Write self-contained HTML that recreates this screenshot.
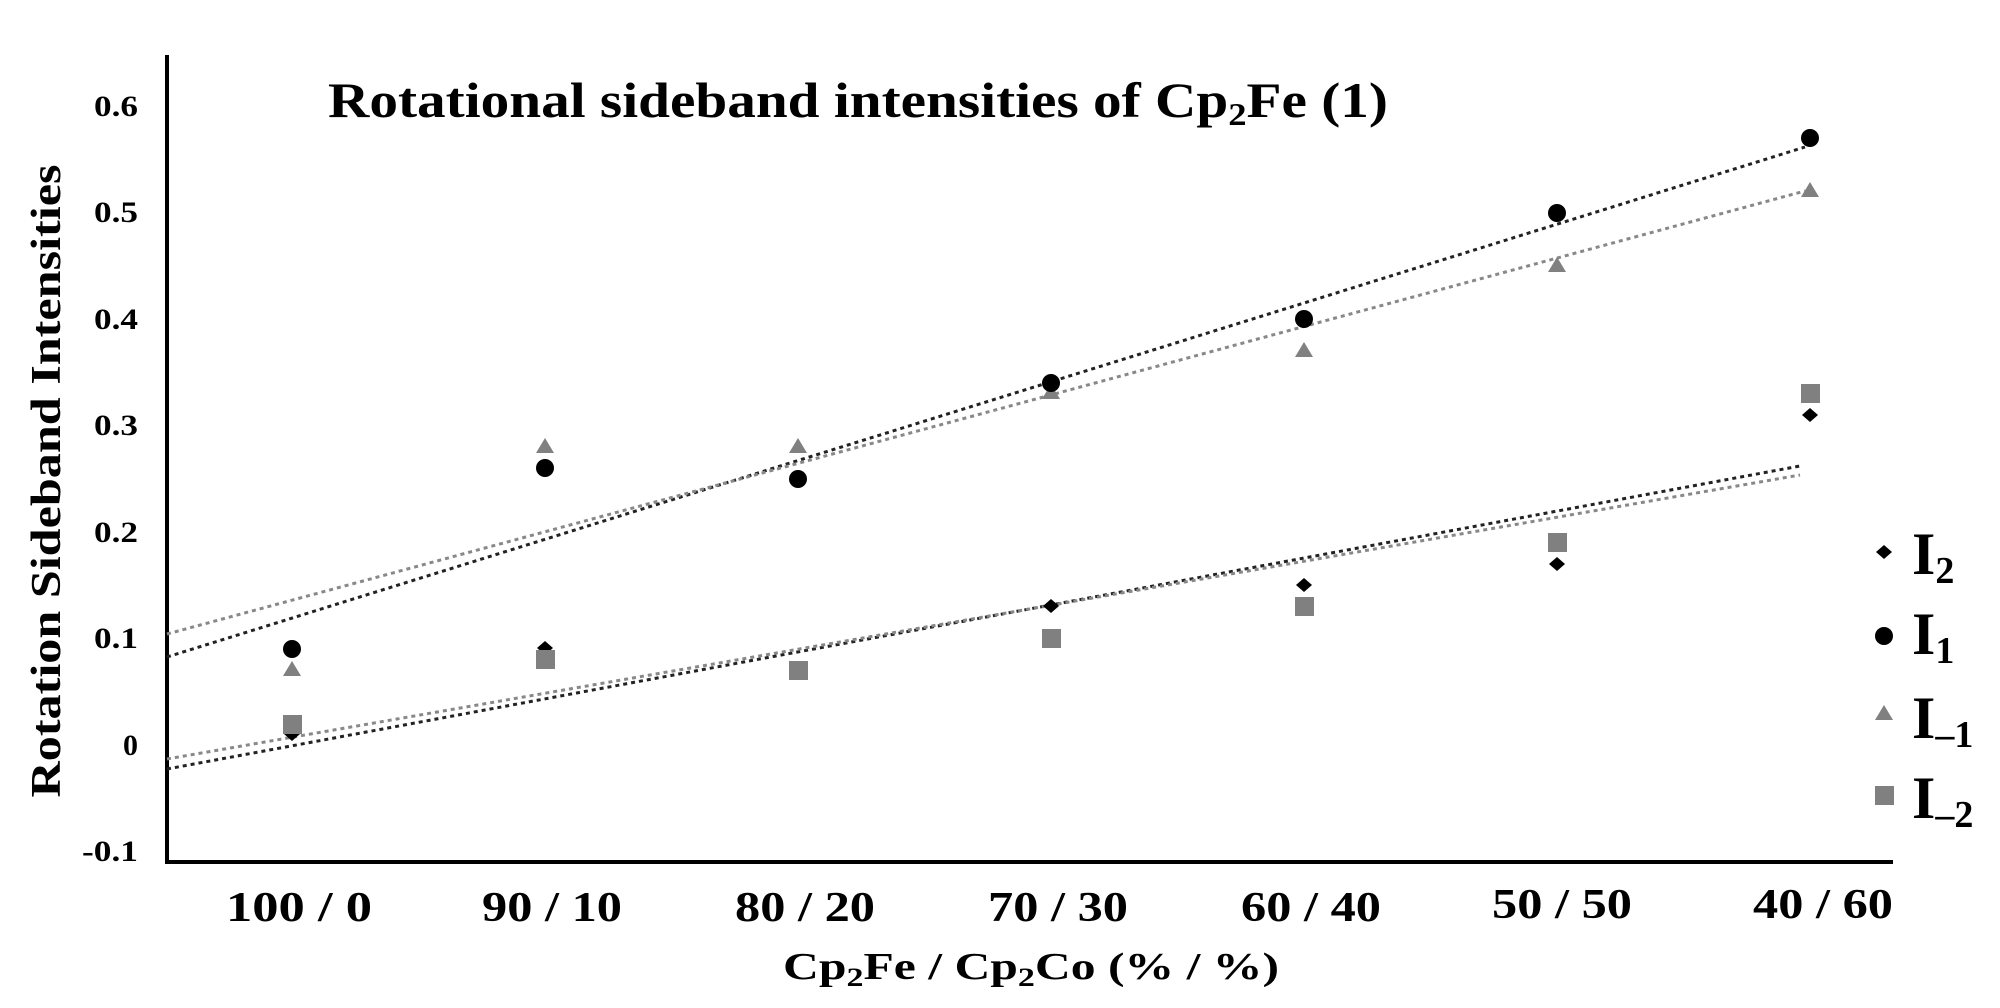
<!DOCTYPE html>
<html><head><meta charset="utf-8"><style>
html,body{margin:0;padding:0;background:#fff;}
svg{display:block;font-family:"Liberation Serif",serif;font-weight:bold;}
</style></head><body>
<svg width="2000" height="1008" viewBox="0 0 2000 1008" xmlns="http://www.w3.org/2000/svg">
<line x1="167" y1="55" x2="167" y2="864" stroke="#000" stroke-width="4"/>
<line x1="165" y1="862" x2="1893" y2="862" stroke="#000" stroke-width="4"/>
<g font-size="30" text-anchor="end">
<text x="138" y="116" textLength="44" lengthAdjust="spacingAndGlyphs">0.6</text>
<text x="138" y="222" textLength="44" lengthAdjust="spacingAndGlyphs">0.5</text>
<text x="138" y="329" textLength="44" lengthAdjust="spacingAndGlyphs">0.4</text>
<text x="138" y="435" textLength="44" lengthAdjust="spacingAndGlyphs">0.3</text>
<text x="138" y="542" textLength="44" lengthAdjust="spacingAndGlyphs">0.2</text>
<text x="138" y="648" textLength="44" lengthAdjust="spacingAndGlyphs">0.1</text>
<text x="138" y="755">0</text>
<text x="138" y="861" textLength="56" lengthAdjust="spacingAndGlyphs">-0.1</text>
</g>
<text transform="translate(60,481) rotate(-90)" font-size="42" text-anchor="middle" textLength="633" lengthAdjust="spacingAndGlyphs">Rotation Sideband Intensities</text>
<text x="328" y="117" font-size="50" textLength="1060" lengthAdjust="spacingAndGlyphs">Rotational sideband  intensities  of Cp<tspan font-size="32" dy="8">2</tspan><tspan dy="-8">Fe (1)</tspan></text>
<g font-size="42" text-anchor="middle">
<text x="299" y="921" textLength="146" lengthAdjust="spacingAndGlyphs">100 / 0</text>
<text x="552" y="921" textLength="140" lengthAdjust="spacingAndGlyphs">90 / 10</text>
<text x="805" y="921" textLength="140" lengthAdjust="spacingAndGlyphs">80 / 20</text>
<text x="1058" y="921" textLength="140" lengthAdjust="spacingAndGlyphs">70 / 30</text>
<text x="1311" y="921" textLength="140" lengthAdjust="spacingAndGlyphs">60 / 40</text>
<text x="1562" y="918" textLength="140" lengthAdjust="spacingAndGlyphs">50 / 50</text>
<text x="1823" y="918" textLength="140" lengthAdjust="spacingAndGlyphs">40 / 60</text>
</g>
<text x="783" y="979" font-size="38" textLength="496" lengthAdjust="spacingAndGlyphs">Cp<tspan font-size="26" dy="7">2</tspan><tspan dy="-7">Fe / Cp</tspan><tspan font-size="26" dy="7">2</tspan><tspan dy="-7">Co (% / %)</tspan></text>
<g stroke-width="3" stroke-dasharray="4 4" fill="none">
<line x1="167" y1="657" x2="1805" y2="147" stroke="#222"/>
<line x1="167" y1="634" x2="1805" y2="191" stroke="#888"/>
<line x1="167" y1="769" x2="1800" y2="466" stroke="#222"/>
<line x1="167" y1="759" x2="1800" y2="475" stroke="#888"/>
</g>
<g fill="#000">
<path d="M292,727 l8,7 l-8,7 l-8,-7z"/>
<path d="M545,641 l8,7 l-8,7 l-8,-7z"/>
<path d="M1051,599 l8,7 l-8,7 l-8,-7z"/>
<path d="M1304,578 l8,7 l-8,7 l-8,-7z"/>
<path d="M1557,557 l8,7 l-8,7 l-8,-7z"/>
<path d="M1810,408 l8,7 l-8,7 l-8,-7z"/>
</g>
<g fill="#808080">
<rect x="283" y="715" width="19" height="19"/>
<rect x="536" y="650" width="19" height="19"/>
<rect x="789" y="661" width="19" height="19"/>
<rect x="1042" y="629" width="19" height="19"/>
<rect x="1295" y="597" width="19" height="19"/>
<rect x="1548" y="533" width="19" height="19"/>
<rect x="1801" y="384" width="19" height="19"/>
</g>
<g fill="#808080">
<path d="M292,661 l9,15 l-18,0z"/>
<path d="M545,438 l9,15 l-18,0z"/>
<path d="M798,438 l9,15 l-18,0z"/>
<path d="M1051,384 l9,15 l-18,0z"/>
<path d="M1304,342 l9,15 l-18,0z"/>
<path d="M1557,257 l9,15 l-18,0z"/>
<path d="M1810,182 l9,15 l-18,0z"/>
</g>
<g fill="#000">
<circle cx="292" cy="649" r="9"/>
<circle cx="545" cy="468" r="9"/>
<circle cx="798" cy="479" r="9"/>
<circle cx="1051" cy="383" r="9"/>
<circle cx="1304" cy="319" r="9"/>
<circle cx="1557" cy="213" r="9"/>
<circle cx="1810" cy="138" r="9"/>
</g>
<path d="M1884,545 l8,7 l-8,7 l-8,-7z" fill="#000"/>
<circle cx="1884" cy="636" r="9" fill="#000"/>
<path d="M1884,705 l9,15 l-18,0z" fill="#808080"/>
<rect x="1875" y="786" width="19" height="19" fill="#808080"/>
<g font-size="60">
<text x="1912" y="574">I<tspan font-size="38" dy="9">2</tspan></text>
<text x="1912" y="654">I<tspan font-size="38" dy="9">1</tspan></text>
<text x="1912" y="738">I<tspan font-size="38" dy="9">–1</tspan></text>
<text x="1912" y="818">I<tspan font-size="38" dy="9">–2</tspan></text>
</g>
</svg>
</body></html>
